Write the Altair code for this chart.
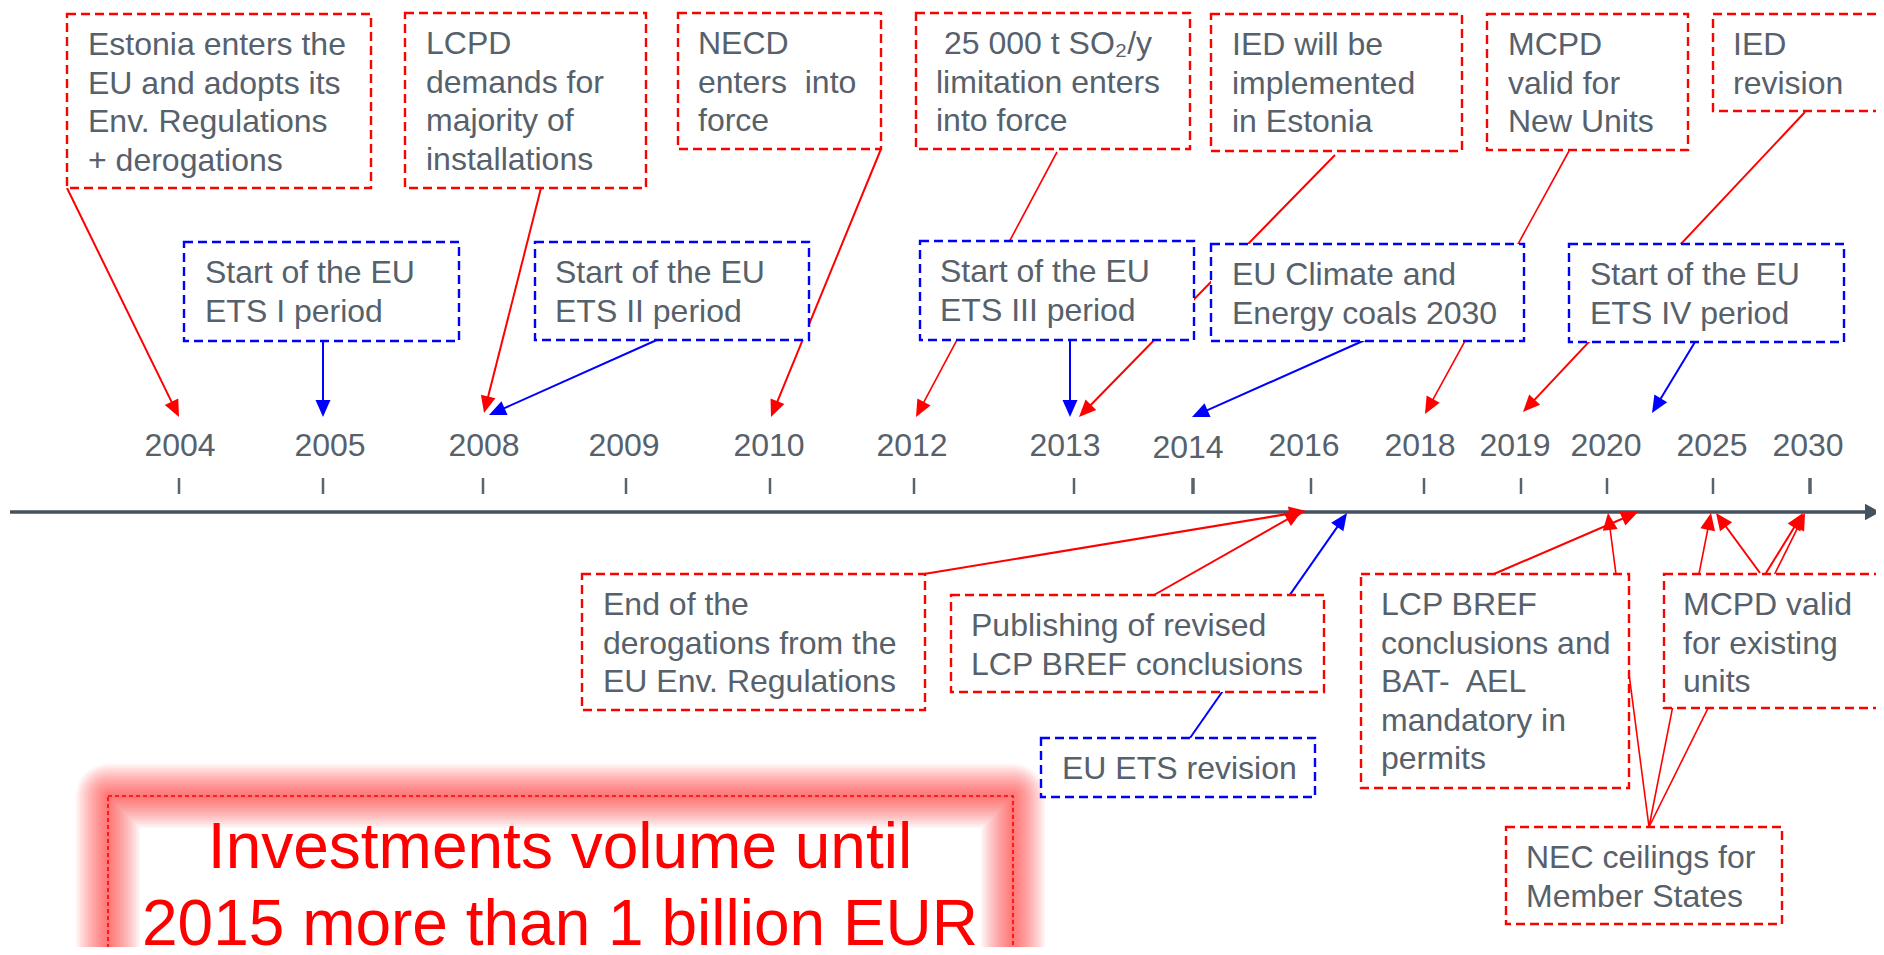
import math
import altair as alt
import pandas as pd

# ---------------------------------------------------------------- data
years = ["2004", "2005", "2008", "2009", "2010", "2012", "2013",
         "2014", "2016", "2018", "2019", "2020", "2025", "2030"]

event_ids = ["estonia", "lcpd", "necd", "so2", "ied", "mcpd_new", "ied_rev",
             "ets1", "ets2", "ets3", "climate", "ets4",
             "derog_end", "bref_pub", "ets_rev", "bref_bat", "mcpd_exist", "nec"]
event_kind = ["env", "env", "env", "env", "env", "env", "env",
              "ets", "ets", "ets", "ets", "ets",
              "env", "env", "ets", "env", "env", "env"]
event_lines = [
    ["Estonia enters the", "EU and adopts its", "Env. Regulations", "+ derogations"],
    ["LCPD", "demands for", "majority of", "installations"],
    ["NECD", "enters\u00a0 into", "force"],
    ["25 000 t SO\u2082/y", "limitation enters", "into force"],
    ["IED will be", "implemented", "in Estonia"],
    ["MCPD", "valid for", "New Units"],
    ["IED", "revision"],
    ["Start of the EU", "ETS I period"],
    ["Start of the EU", "ETS II period"],
    ["Start of the EU", "ETS III period"],
    ["EU Climate and", "Energy coals 2030"],
    ["Start of the EU", "ETS IV period"],
    ["End of the", "derogations from the", "EU Env. Regulations"],
    ["Publishing of revised", "LCP BREF conclusions"],
    ["EU ETS revision"],
    ["LCP BREF", "conclusions and", "BAT-\u00a0 AEL", "mandatory in", "permits"],
    ["MCPD valid", "for existing", "units"],
    ["NEC ceilings for", "Member States"],
]
highlight_lines = ["Investments volume until", "2015 more than 1 billion EUR"]

# which event points at which year
link_from = ["estonia", "lcpd", "necd", "so2", "ied", "mcpd_new", "ied_rev",
             "ets1", "ets2", "ets3", "climate", "ets4",
             "derog_end", "bref_pub", "ets_rev", "bref_bat",
             "nec", "nec", "nec", "mcpd_exist", "mcpd_exist"]
link_to = ["2004", "2008", "2010", "2012", "2013", "2018", "2019",
           "2005", "2008", "2013", "2014", "2020",
           "2016", "2016", "2016", "2020",
           "2020", "2025", "2030", "2025", "2030"]

# ---------------------------------------------------------------- layout / style
RED = "#ff0000"
BLUE = "#0000ff"
TXT = "#56616b"
AXIS = "#45525e"
FONT = "Liberation Sans"
KIND_COLOR = {"env": RED, "ets": BLUE}

PAGE = 8
W, H = 1868, 939

tick_x = [179, 323, 483, 626, 770, 914, 1074, 1193, 1311, 1424, 1521, 1607, 1713, 1810]
label_x = [180, 330, 484, 624, 769, 912, 1065, 1188, 1304, 1420, 1515, 1606, 1712, 1808]
label_y = [446] * 7 + [448] + [446] * 6
tick_top, tick_bot = 478, 494
axis_y = 512
axis_x0, axis_x1, axis_tip = 10, 1866, 1880

# box: x1, y1, x2, y2, text-x
box_geom = {
    "estonia": (67, 14, 371, 188, 88),
    "lcpd": (405, 13, 646, 188, 426),
    "necd": (678, 13, 881, 149, 698),
    "so2": (916, 13, 1190, 149, 936),
    "ied": (1211, 14, 1462, 151, 1232),
    "mcpd_new": (1487, 14, 1688, 150, 1508),
    "ied_rev": (1713, 14, 1910, 111, 1733),
    "ets1": (184, 242, 459, 341, 205),
    "ets2": (535, 242, 809, 340, 555),
    "ets3": (920, 241, 1194, 340, 940),
    "climate": (1211, 244, 1524, 341, 1232),
    "ets4": (1569, 244, 1844, 342, 1590),
    "derog_end": (582, 574, 925, 710, 603),
    "bref_pub": (951, 595, 1324, 692, 971),
    "ets_rev": (1041, 738, 1315, 797, 1062),
    "bref_bat": (1361, 574, 1629, 788, 1381),
    "mcpd_exist": (1664, 574, 1881, 708, 1683),
    "nec": (1506, 827, 1782, 924, 1526),
}
first_line_dx = {"so2": 8}
LINE0, LINE_STEP = 31, 38.5

# link geometry: start x, start y, tip x, tip y, width
link_geom = [
    (67, 188, 179, 417, 2), (541, 188, 484, 413, 2), (881, 149, 771, 417, 2),
    (1057, 152, 916, 417, 1.6), (1335, 155, 1079, 417, 2), (1569, 151, 1425, 414, 1.6),
    (1805, 112, 1523, 412, 2),
    (323, 341, 323, 417, 2), (659, 339, 489, 415, 2), (1070, 340, 1070, 417, 2),
    (1365, 340, 1192, 417, 2), (1695, 342, 1652, 413, 2),
    (924, 574, 1306, 511, 2.2), (1154, 595, 1302, 511, 2), (1190, 738, 1347, 513, 2),
    (1487, 577, 1638, 512, 2),
    (1649, 827, 1608, 513, 1.6), (1649, 827, 1711, 513, 1.6), (1649, 827, 1805, 513, 1.6),
    (1760, 573, 1716, 513, 2), (1766, 573, 1803, 513, 2),
]
HEAD_LEN = 17
HEAD_SHAPE = "M0,0L-0.44,1L0.44,1Z"

glow_box = (108, 796, 1013, 1010)
glow_widths = list(range(64, 0, -4))
glow_opacity = 0.045
highlight_x = 560
highlight_y = [868, 945]

# ---------------------------------------------------------------- frames
kind_of = dict(zip(event_ids, event_kind))

boxes = []
texts = []
for eid, lines in zip(event_ids, event_lines):
    x1, y1, x2, y2, tx = box_geom[eid]
    boxes.append({"x": x1, "y": y1, "x2": x2, "y2": y2, "col": KIND_COLOR[kind_of[eid]]})
    for i, line in enumerate(lines):
        dx = first_line_dx.get(eid, 0) if i == 0 else 0
        texts.append({"x": tx + dx, "y": y1 + LINE0 + LINE_STEP * i, "text": line})
boxes_df = pd.DataFrame(boxes)
texts_df = pd.DataFrame(texts)

lines = []
heads = []
for src, yr, (sx, sy, tx, ty, w) in zip(link_from, link_to, link_geom):
    col = KIND_COLOR[kind_of[src]]
    dx, dy = tx - sx, ty - sy
    L = math.hypot(dx, dy)
    ux, uy = dx / L, dy / L
    ex, ey = tx - ux * HEAD_LEN * 0.6, ty - uy * HEAD_LEN * 0.6
    lines.append({"x": sx, "y": sy, "x2": ex, "y2": ey, "col": col, "w": w, "year": yr})
    ang = math.degrees(math.atan2(dx, -dy)) % 360
    heads.append({"x": tx, "y": ty, "ang": ang, "col": col})
lines_df = pd.DataFrame(lines)
heads_df = pd.DataFrame(heads)

ticks_df = pd.DataFrame({"year": years, "x": tick_x, "y": [tick_top] * len(years),
                         "y2": [tick_bot] * len(years),
                         "w": [3.5 if y in ("2014", "2030") else 2.5 for y in years]})
labels_df = pd.DataFrame({"year": years, "x": label_x, "y": label_y})

axis_df = pd.DataFrame({"x": [axis_x0], "x2": [axis_x1], "y": [axis_y], "y2": [axis_y]})
axis_head_df = pd.DataFrame({"x": [axis_tip], "y": [axis_y], "ang": [90]})

gx1, gy1, gx2, gy2 = glow_box
n = len(glow_widths)
glow_df = pd.DataFrame({"x": [gx1] * n, "x2": [gx2] * n,
                        "y": [gy1] * n, "y2": [gy2] * n, "w": glow_widths})
glow_line_df = pd.DataFrame({"x": [gx1], "x2": [gx2], "y": [gy1], "y2": [gy2]})
hl_df = pd.DataFrame({"x": [highlight_x] * 2, "y": highlight_y, "text": highlight_lines})

# ---------------------------------------------------------------- chart
xs = alt.Scale(domain=[PAGE, PAGE + W], nice=False, zero=False)
ys = alt.Scale(domain=[PAGE, PAGE + H], nice=False, zero=False, reverse=True)


def X():
    return alt.X("x:Q", scale=xs, axis=None)


def Y():
    return alt.Y("y:Q", scale=ys, axis=None)


glow = alt.Chart(glow_df).mark_rect(
    fill="transparent", stroke=RED, strokeOpacity=glow_opacity, strokeJoin="round",
    clip=True
).encode(x=X(), x2="x2:Q", y=Y(), y2="y2:Q",
         strokeWidth=alt.StrokeWidth("w:Q", scale=None))

glow_line = alt.Chart(glow_line_df).mark_rect(
    fill="transparent", stroke=RED, strokeWidth=1.6, strokeDash=[4, 3], clip=True
).encode(x=X(), x2="x2:Q", y=Y(), y2="y2:Q")

hl_text = alt.Chart(hl_df).mark_text(
    font=FONT, fontSize=64, color=RED, align="center", baseline="alphabetic"
).encode(x=X(), y=Y(), text="text:N")

axis_line = alt.Chart(axis_df).mark_rule(color=AXIS, strokeWidth=3.5).encode(
    x=X(), x2="x2:Q", y=Y(), y2="y2:Q")

axis_head = alt.Chart(axis_head_df).mark_point(
    shape="M0,0L-0.55,1L0.55,1Z", filled=True, color=AXIS, opacity=1,
    strokeWidth=0, size=900, clip=True
).encode(x=X(), y=Y(), angle=alt.Angle("ang:Q", scale=None))

ticks = alt.Chart(ticks_df).mark_rule(color="#59636d").encode(
    x=X(), y=Y(), y2="y2:Q", strokeWidth=alt.StrokeWidth("w:Q", scale=None))

year_labels = alt.Chart(labels_df).mark_text(
    font=FONT, fontSize=32, color=TXT, align="center", baseline="middle"
).encode(x=X(), y=Y(), text="year:N")

link_lines = alt.Chart(lines_df).mark_rule(strokeCap="butt").encode(
    x=X(), x2="x2:Q", y=Y(), y2="y2:Q",
    color=alt.Color("col:N", scale=None),
    strokeWidth=alt.StrokeWidth("w:Q", scale=None))

box_rects = alt.Chart(boxes_df).mark_rect(
    fill="white", strokeWidth=2.4, strokeDash=[9, 5], clip=True
).encode(x=X(), x2="x2:Q", y=Y(), y2="y2:Q",
         stroke=alt.Stroke("col:N", scale=None))

box_texts = alt.Chart(texts_df).mark_text(
    font=FONT, fontSize=32, color=TXT, align="left", baseline="middle", clip=True
).encode(x=X(), y=Y(), text="text:N")

arrow_heads = alt.Chart(heads_df).mark_point(
    shape=HEAD_SHAPE, filled=True, opacity=1, strokeWidth=0,
    size=(HEAD_LEN * 2) ** 2
).encode(x=X(), y=Y(),
         color=alt.Color("col:N", scale=None),
         angle=alt.Angle("ang:Q", scale=None))

chart = alt.layer(
    glow, glow_line, hl_text, axis_line, axis_head, ticks, year_labels,
    link_lines, box_rects, box_texts, arrow_heads
).properties(
    width=W, height=H, padding=0, autosize=alt.AutoSizeParams(type="none")
).configure_view(stroke=None)

chart.save("out.html", embed_options={"renderer": "svg", "actions": False})
